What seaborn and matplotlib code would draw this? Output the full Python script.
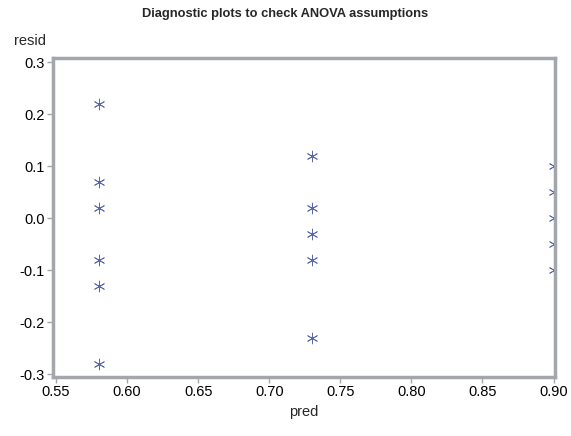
import numpy as np
import pandas as pd
import matplotlib
matplotlib.use("Agg")
import matplotlib.pyplot as plt
import seaborn as sns

# predicted group means and residuals
pred = [0.58, 0.58, 0.58, 0.58, 0.58, 0.58,
        0.73, 0.73, 0.73, 0.73, 0.73,
        0.90, 0.90, 0.90, 0.90, 0.90]
resid = [0.22, 0.07, 0.02, -0.08, -0.13, -0.28,
         0.12, 0.02, -0.03, -0.08, -0.23,
         0.10, 0.05, 0.00, -0.05, -0.10]
xticks = [0.55, 0.60, 0.65, 0.70, 0.75, 0.80, 0.85, 0.90]
yticks = [-0.3, -0.2, -0.1, 0.0, 0.1, 0.2, 0.3]

df = pd.DataFrame({'pred': pred, 'resid': resid})

sns.set_style("white")
plt.rcParams['font.family'] = ['Liberation Sans', 'DejaVu Sans']

fig = plt.figure(figsize=(5.71, 4.36), dpi=100)
ax = fig.add_axes([0.093, 0.135, 0.879, 0.732])

sns.scatterplot(x='pred', y='resid', data=df, ax=ax, marker=(6, 2, 0),
                s=60, color='#5868a8', linewidth=0.6, edgecolor='#5868a8')

ax.set_xlim(0.548, 0.901)
ax.set_ylim(-0.306, 0.308)
ax.set_xticks(xticks)
ax.set_xticklabels([f"{v:.2f}" for v in xticks])
ax.set_yticks(yticks)
ax.set_yticklabels([f"{v:.1f}" for v in yticks])

frame = '#a3a7ab'
for s in ax.spines.values():
    s.set_color(frame)
    s.set_linewidth(2.5)
ax.tick_params(axis='both', direction='out', length=4, width=1, color=frame,
               labelsize=10.5, labelcolor='black', pad=2, bottom=True, left=True)

ax.set_xlabel('pred', fontsize=10.5, labelpad=4)
ax.set_ylabel('')
fig.text(0.025, 0.907, 'resid', fontsize=10.5, ha='left', va='center')
fig.text(0.5, 0.968, 'Diagnostic plots to check ANOVA assumptions',
         fontsize=9.3, fontweight='bold', ha='center', va='center')

fig.savefig('out.png', dpi=100)
